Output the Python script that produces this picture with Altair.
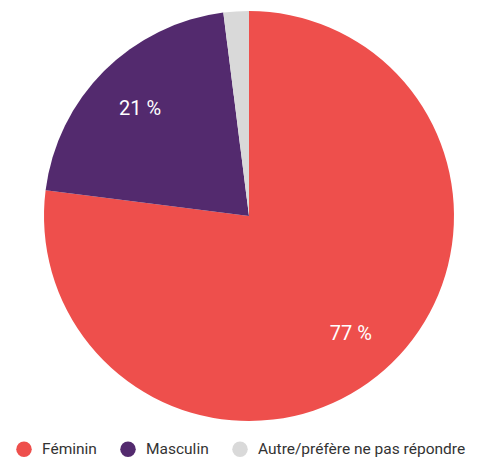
import altair as alt
import pandas as pd

categories = ["Féminin", "Masculin", "Autre/préfère ne pas répondre"]
values = [77, 21, 2]
labels = ["77 %", "21 %", ""]
colors = ["#EE4F4C", "#532A6E", "#D9D9D9"]
order = [0, 1, 2]

df = pd.DataFrame({"cat": categories, "val": values, "label": labels, "order": order})

CX, CY = 241, 208

base = alt.Chart(df).encode(
    theta=alt.Theta("val:Q", stack=True),
    order=alt.Order("order:Q"),
)

arc = base.mark_arc(outerRadius=205, x=CX, y=CY).encode(
    color=alt.Color(
        "cat:N",
        scale=alt.Scale(domain=categories, range=colors),
        legend=alt.Legend(
            title=None,
            orient="none",
            legendX=8,
            legendY=433,
            direction="horizontal",
            symbolType="circle",
            symbolSize=240,
            symbolStrokeWidth=0,
            labelFont="Roboto",
            labelFontSize=15.5,
            labelColor="#333333",
            labelOffset=10,
            labelLimit=0,
            columnPadding=23,
        ),
    )
)

text = base.mark_text(radius=154, x=CX, y=CY, dy=2, fontSize=20, color="white", font="Roboto").encode(
    text="label:N"
)

chart = (
    alt.layer(arc, text)
    .properties(width=468, height=449, autosize=alt.AutoSizeParams(type="none"), padding=0)
    .configure_view(stroke=None)
)

chart.save("out.html", embed_options={"renderer": "svg", "actions": False})
